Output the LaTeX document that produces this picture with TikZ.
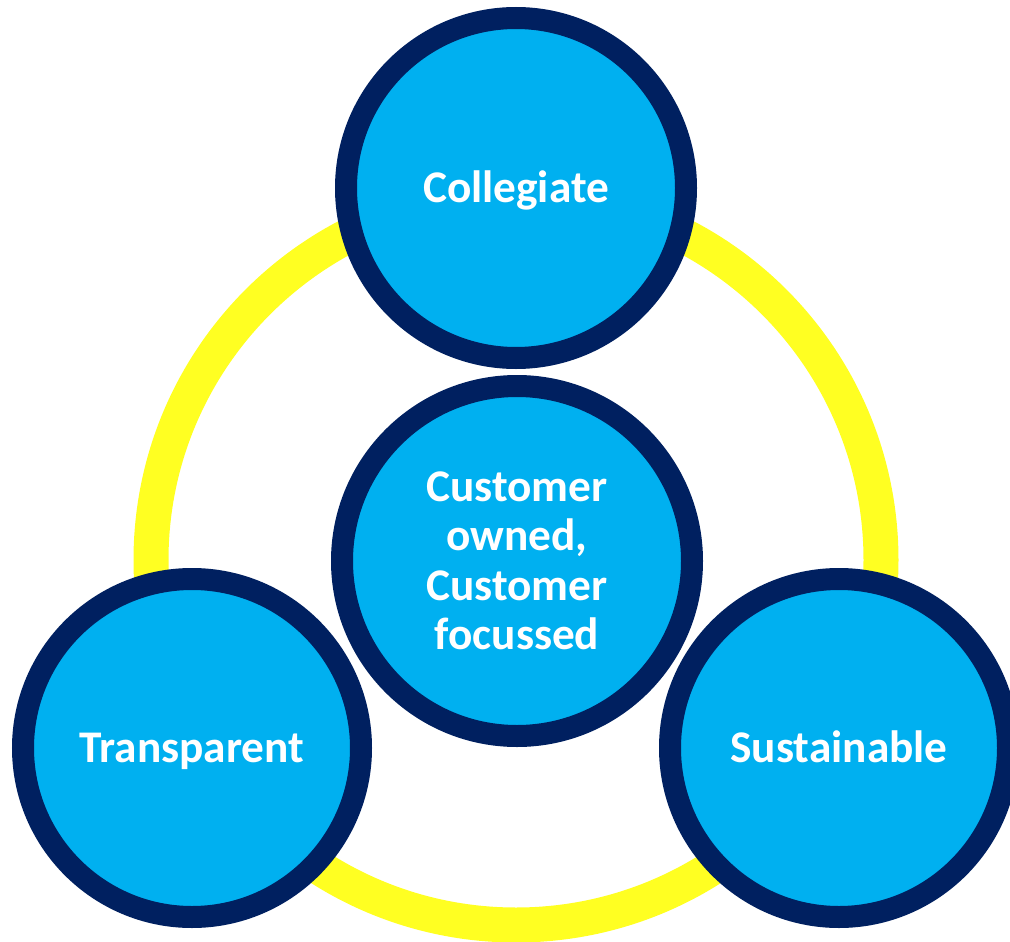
\documentclass[tikz,border=0pt]{standalone}
\usepackage{fontspec}
\setmainfont{Carlito}
\definecolor{ringyellow}{HTML}{FFFF22}
\definecolor{discfill}{HTML}{00B0F0}
\definecolor{discedge}{HTML}{002060}
\begin{document}
\begin{tikzpicture}[x=1pt,y=-1pt,
  disc/.style={circle, draw=discedge, fill=discfill, line width=22pt,
    minimum size=#1, inner sep=0pt, text=white,
    font=\bfseries\fontsize{45.3}{49.5}\selectfont},
  oneline/.style={text height=29pt, text depth=0pt}]
\useasboundingbox (0,0) rectangle (1010,942);
% yellow ring behind the discs
\draw[ringyellow, line width=35pt] (516,560) circle[radius=365];
% the four discs
\node[disc=340pt, oneline] (collegiate) at (516,188) {Collegiate};
\node[disc=350pt, align=center] (core) at (517,561) {Customer\\owned,\\Customer\\focussed};
\node[disc=338pt, oneline] (transparent) at (192,748) {Transparent};
\node[disc=338pt, oneline] (sustainable) at (839,748) {Sustainable};
\end{tikzpicture}
\end{document}
